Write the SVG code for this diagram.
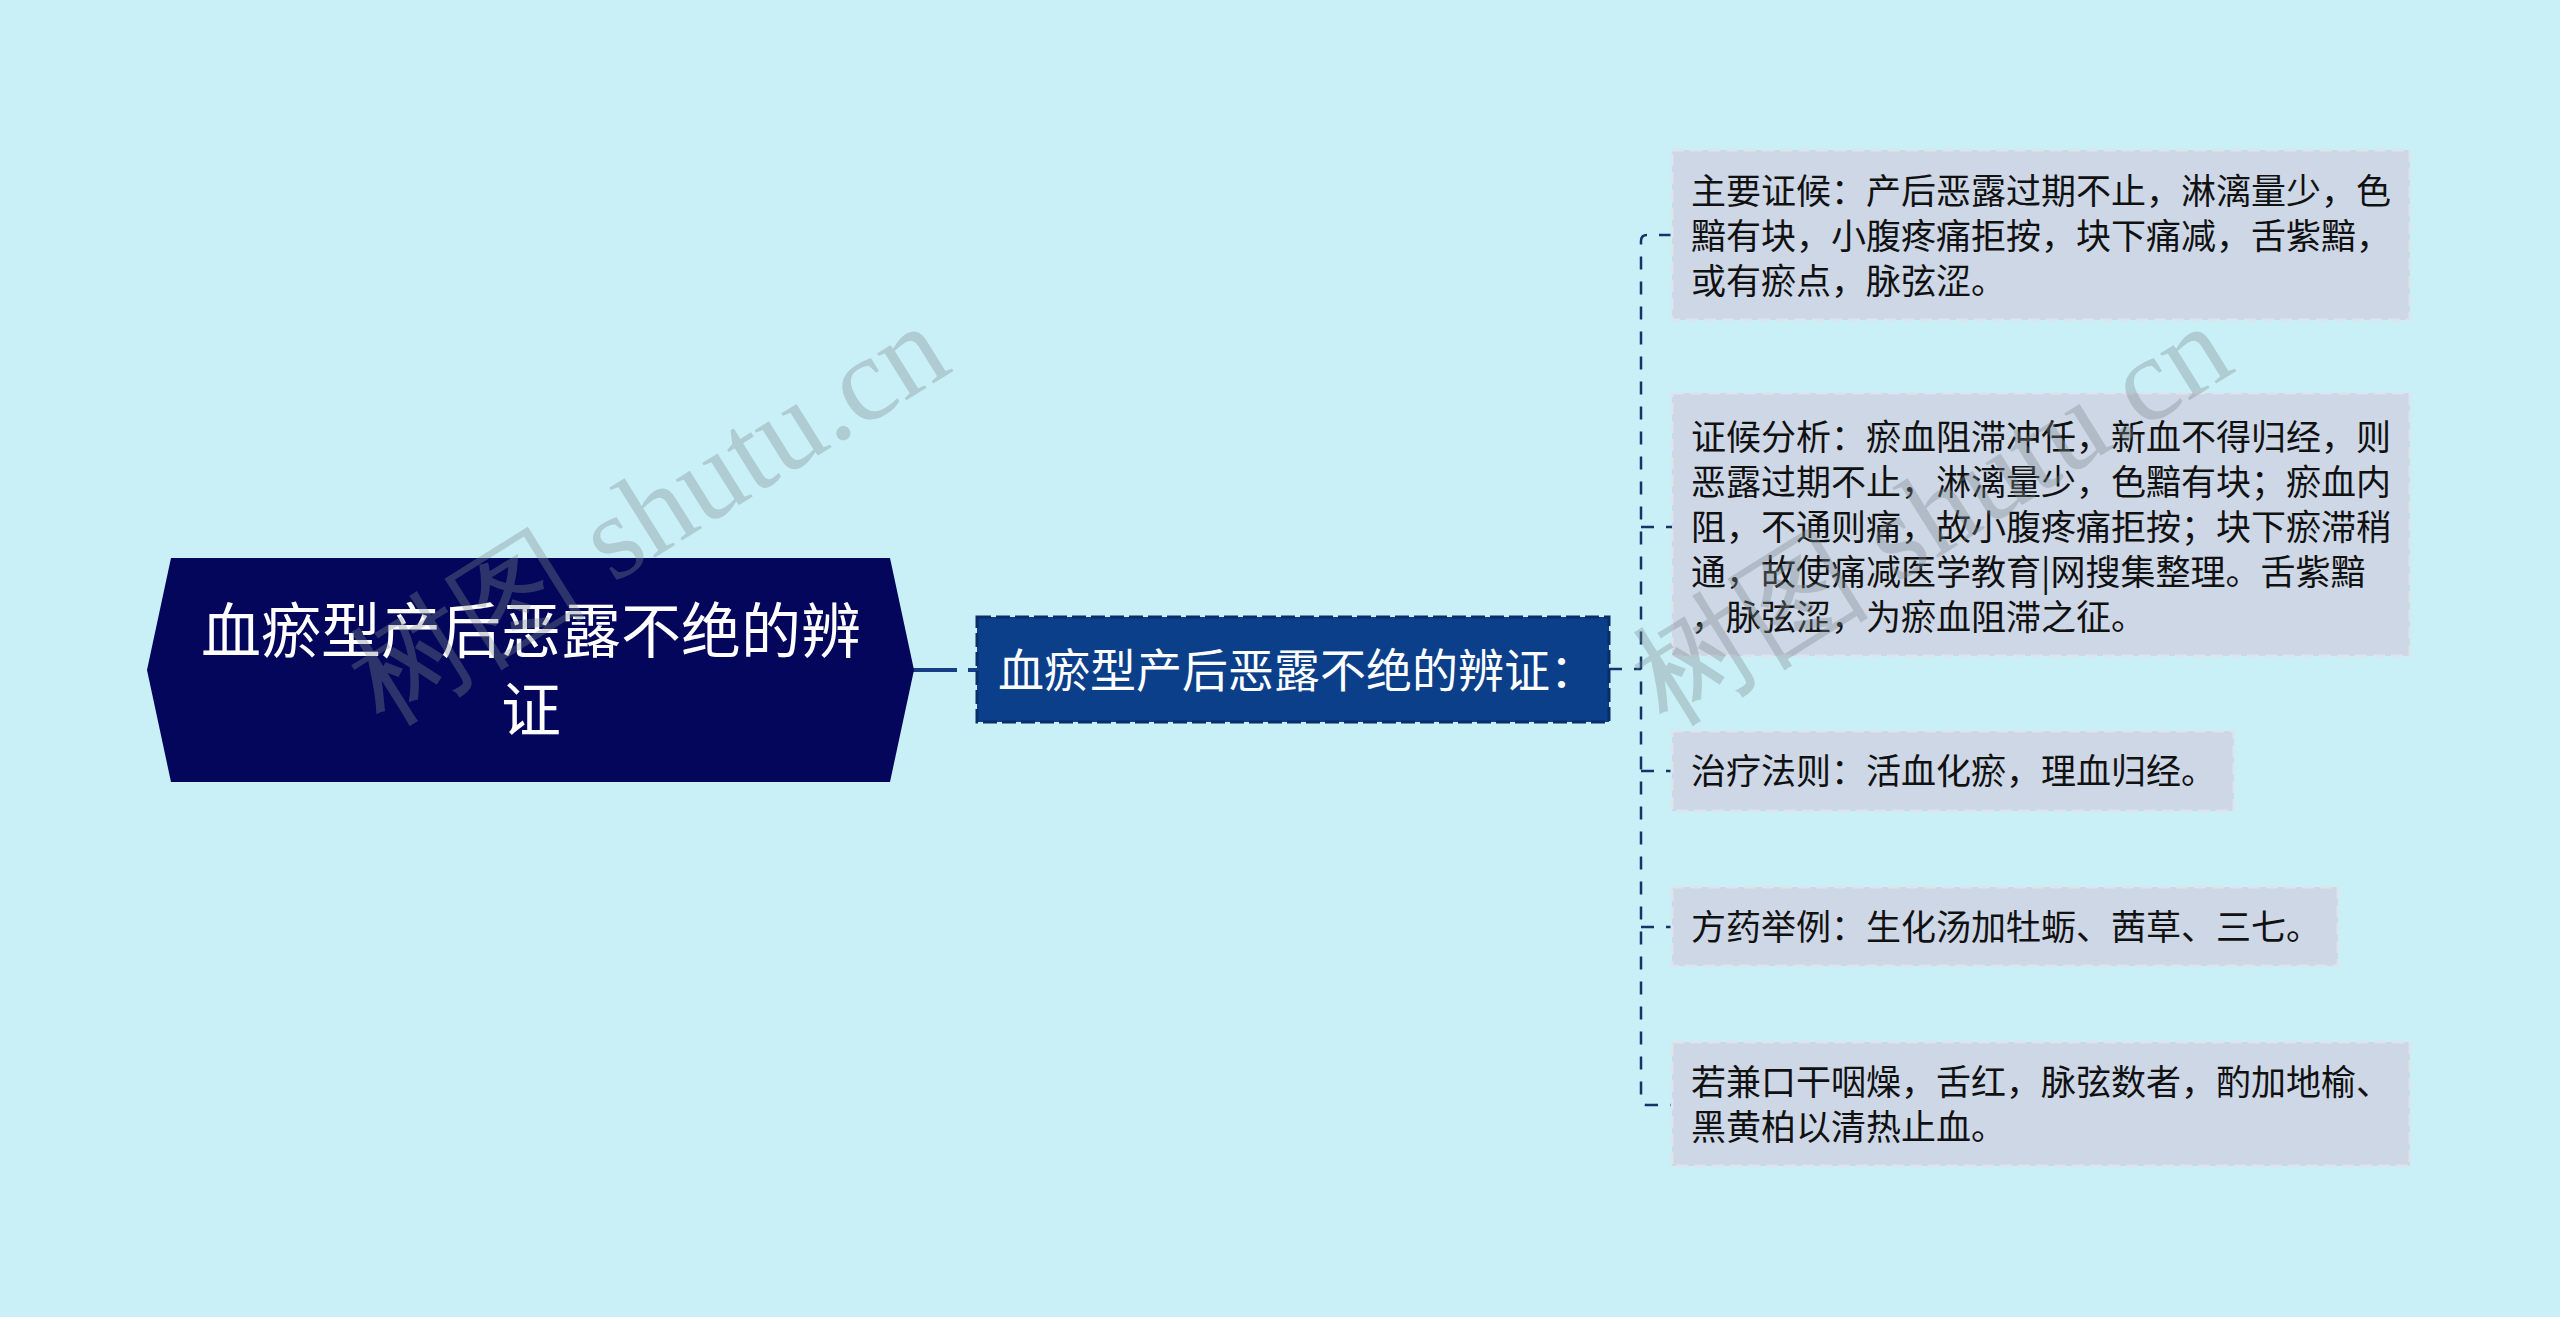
<svg xmlns="http://www.w3.org/2000/svg" width="2560" height="1317" viewBox="0 0 2560 1317">
<style>
.t{font-family:"Noto Sans CJK SC","Noto Sans",sans-serif}
.root{fill:#03065a}
.rt{fill:#ffffff;font-size:60px;text-anchor:middle}
.sub{fill:#0c3f8a;stroke:#0a2d68;stroke-width:3;stroke-dasharray:14 5}
.st{fill:#ffffff;font-size:46px}
.leaf{fill:#cdd7e6;stroke:#dce4ee;stroke-width:3;stroke-dasharray:12 6}
.lt{fill:#111111;font-size:35px}
.c1{fill:none;stroke:#163d86;stroke-width:4;stroke-dasharray:44 11}
.c2{fill:none;stroke:#15336b;stroke-width:2.5;stroke-dasharray:13 12}
.wm{font-family:"Liberation Serif",serif;font-size:120px;fill:#7d8a8e;opacity:0.35}
</style>
<rect x="0" y="0" width="2560" height="1317" fill="#c9f0f7"/>
<g id="connectors">
<path class="c1" d="M913,670 H977"/>
<path class="c2" d="M1609,669 H1641"/>
<path class="c2" d="M1672,235 H1647 Q1641,235 1641,241 V1099 Q1641,1105 1647,1105 H1672"/>
<path class="c2" d="M1641,527 H1672"/>
<path class="c2" d="M1641,771 H1672"/>
<path class="c2" d="M1641,927 H1672"/>
</g>
<g id="root">
<polygon class="root" points="147,670 171,558 890,558 914,670 890,782 171,782"/>
<text class="t rt" x="531" y="653">血瘀型产后恶露不绝的辨</text>
<text class="t rt" x="531" y="732">证</text>
</g>
<g id="sub">
<rect class="sub" x="977" y="617" width="632" height="105"/>
<text class="t st" x="998" y="687">血瘀型产后恶露不绝的辨证：</text>
</g>
<g id="leaf1">
<rect class="leaf" x="1672" y="150" width="738" height="170"/>
<text class="t lt" x="1691" y="204">主要证候：产后恶露过期不止，淋漓量少，色</text>
<text class="t lt" x="1691" y="249">黯有块，小腹疼痛拒按，块下痛减，舌紫黯，</text>
<text class="t lt" x="1691" y="294">或有瘀点，脉弦涩。</text>
</g>
<g id="leaf2">
<rect class="leaf" x="1672" y="393" width="738" height="263"/>
<text class="t lt" x="1691" y="450">证候分析：瘀血阻滞冲任，新血不得归经，则</text>
<text class="t lt" x="1691" y="495">恶露过期不止，淋漓量少，色黯有块；瘀血内</text>
<text class="t lt" x="1691" y="540">阻，不通则痛，故小腹疼痛拒按；块下瘀滞稍</text>
<text class="t lt" x="1691" y="585">通，故使痛减医学教育|网搜集整理。舌紫黯</text>
<text class="t lt" x="1691" y="630">，脉弦涩，为瘀血阻滞之征。</text>
</g>
<g id="leaf3">
<rect class="leaf" x="1672" y="731" width="562" height="80"/>
<text class="t lt" x="1691" y="784">治疗法则：活血化瘀，理血归经。</text>
</g>
<g id="leaf4">
<rect class="leaf" x="1672" y="887" width="666" height="79"/>
<text class="t lt" x="1691" y="940">方药举例：生化汤加牡蛎、茜草、三七。</text>
</g>
<g id="leaf5">
<rect class="leaf" x="1672" y="1042" width="738" height="124"/>
<text class="t lt" x="1691" y="1095">若兼口干咽燥，舌红，脉弦数者，酌加地榆、</text>
<text class="t lt" x="1691" y="1140">黑黄柏以清热止血。</text>
</g>
<g id="watermark">
<text class="wm" x="648" y="514" text-anchor="middle" dominant-baseline="central" transform="rotate(-32 648 514)">树图 shutu.cn</text>
<text class="wm" x="1931" y="514" text-anchor="middle" dominant-baseline="central" transform="rotate(-32 1931 514)">树图 shutu.cn</text>
</g>
</svg>
